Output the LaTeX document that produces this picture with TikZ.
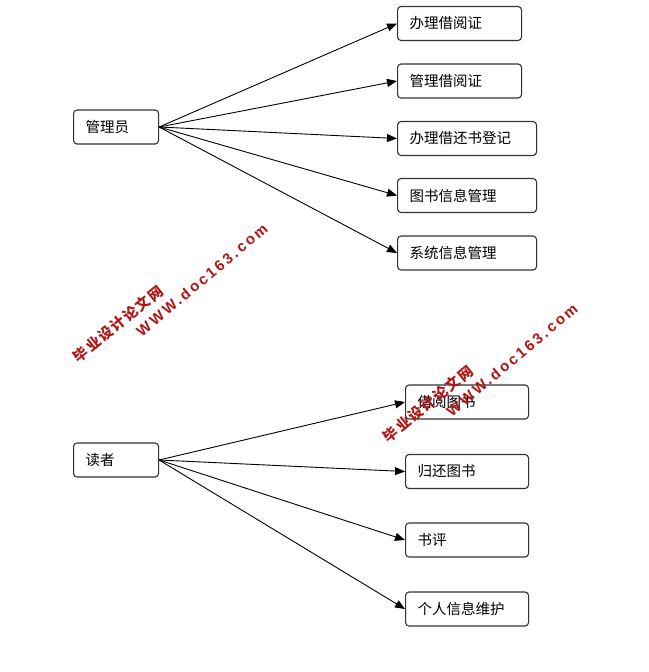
\documentclass[tikz,border=0pt]{standalone}
\usepackage{fontspec}
\usepackage{xcolor}
\usepackage{tikz}
\usetikzlibrary{positioning}
\usetikzlibrary{arrows.meta}
\newfontfamily\cjk{Noto Sans CJK SC}
\newfontfamily\wmcjk[LetterSpace=10]{Noto Sans CJK SC}
\newfontfamily\wmlatin[LetterSpace=17]{Liberation Sans}
\definecolor{wmred}{RGB}{176,22,22}
\tikzset{
    mybox/.style = {rectangle, rounded corners=3.5pt, draw=black!80, line width=1.1pt, fill=white, anchor=west, align=left, minimum height=34pt, inner xsep=12pt, font=\cjk\fontsize{14.5}{17}\selectfont},
    edgea/.style = {-{Triangle[length=10pt,width=8pt]}, line width=0.9pt, black},
    wmcn/.style = {text=wmred, rotate=39, inner sep=0pt, font=\wmcjk\bfseries\fontsize{14.5}{16}\selectfont},
    wmurl/.style = {text=wmred, rotate=40, inner sep=0pt, font=\wmlatin\bfseries\fontsize{15}{17}\selectfont},
}

\begin{document}
\begin{tikzpicture}[x=1pt,y=-1pt]
\useasboundingbox (0,0) rectangle (648,672);
% admin side
\node[mybox, text width=61pt] at (73,127) (admin) {管理员};
\node[mybox, text width=100pt] at (397,23.5) (a1) {办理借阅证};
\node[mybox, text width=100pt] at (397,81) (a2) {管理借阅证};
\node[mybox, text width=115pt] at (397,138.5) (a3) {办理借还书登记};
\node[mybox, text width=115pt] at (397,195.5) (a4) {图书信息管理};
\node[mybox, text width=115pt] at (397,253) (a5) {系统信息管理};
\draw[edgea] (admin.east) to (a1.west);
\draw[edgea] (admin.east) to (a2.west);
\draw[edgea] (admin.east) to (a3.west);
\draw[edgea] (admin.east) to (a4.west);
\draw[edgea] (admin.east) to (a5.west);
% reader side
\node[mybox, text width=61pt] at (73,460) (reader) {读者};
\node[mybox, text width=99pt] at (405,402) (r1) {借阅图书};
\node[mybox, text width=99pt] at (405,471.5) (r2) {归还图书};
\node[mybox, text width=99pt] at (405,540) (r3) {书评};
\node[mybox, text width=99pt] at (405,609) (r4) {个人信息维护};
\draw[edgea] (reader.east) to (r1.west);
\draw[edgea] (reader.east) to (r2.west);
\draw[edgea] (reader.east) to (r3.west);
\draw[edgea] (reader.east) to (r4.west);
% watermark
\node[wmcn] at (118,324) (wm1cn) {毕业设计论文网};
\node[wmurl] at (202,280) (wm1url) {WWW.doc163.com};
\node[wmcn] at (428,404) (wm2cn) {毕业设计论文网};
\node[wmurl] at (512,360) (wm2url) {WWW.doc163.com};

\end{tikzpicture}
\end{document}
